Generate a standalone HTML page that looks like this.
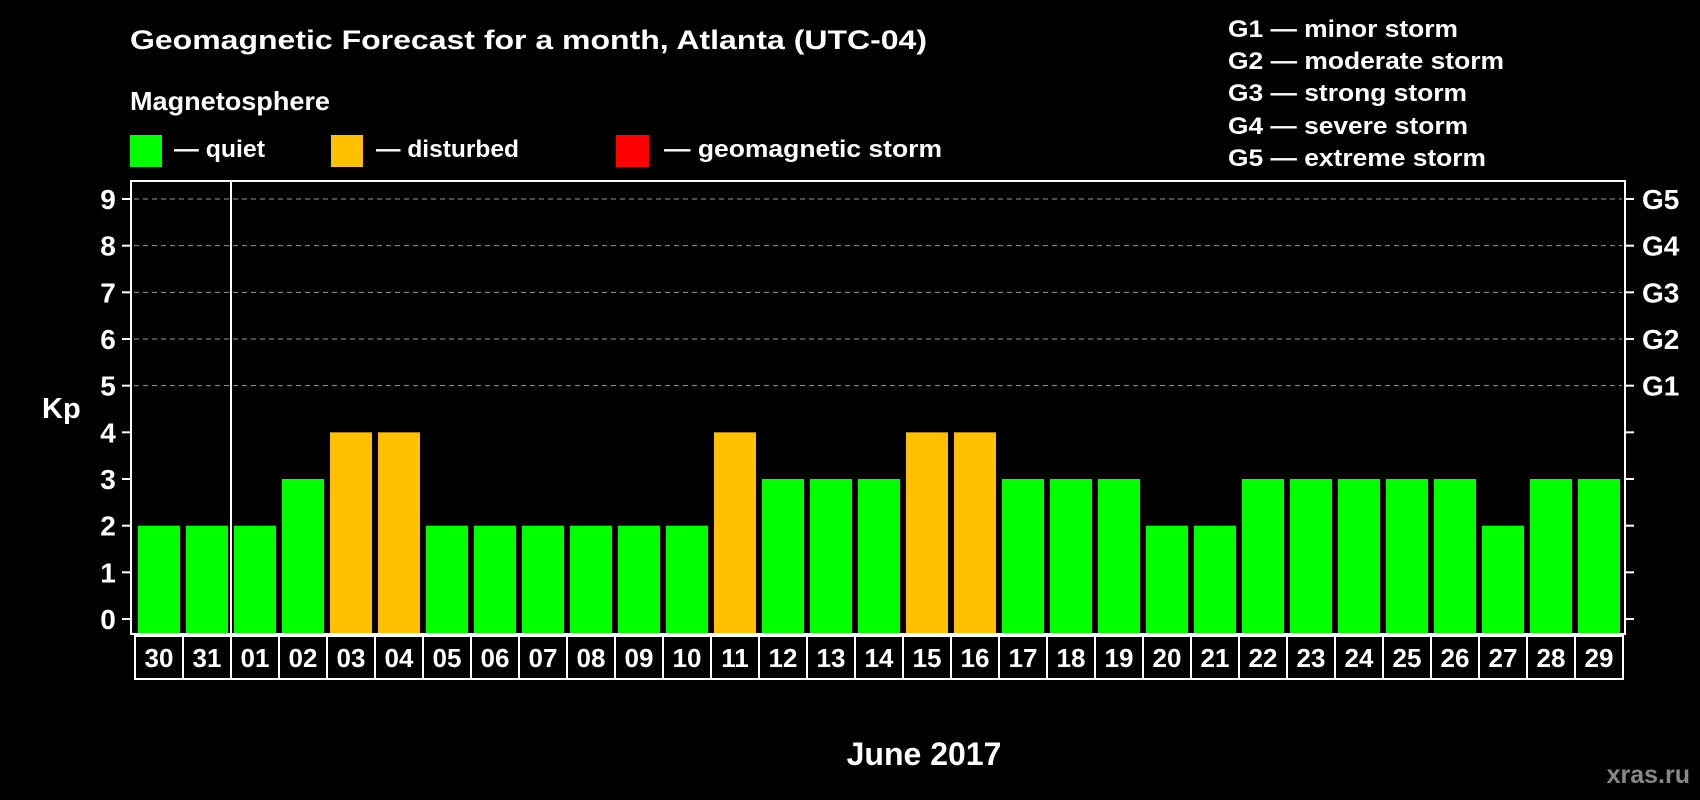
<!DOCTYPE html>
<html><head><meta charset="utf-8"><style>
html,body{margin:0;padding:0;background:#000;}
svg{display:block;font-family:"Liberation Sans",Arial,sans-serif;font-weight:bold;}
</style></head><body>
<svg id="chart" width="1700" height="800" viewBox="0 0 1700 800">
<rect x="0" y="0" width="1700" height="800" fill="#000"/>
<text x="130" y="49" fill="#fff" font-size="27" textLength="797" lengthAdjust="spacingAndGlyphs">Geomagnetic Forecast for a month, Atlanta (UTC-04)</text>
<text x="130" y="110" fill="#fff" font-size="26" textLength="200" lengthAdjust="spacingAndGlyphs">Magnetosphere</text>
<rect x="130" y="135" width="32" height="32" fill="#00ff00"/>
<text x="174" y="157" fill="#fff" font-size="24" textLength="91" lengthAdjust="spacingAndGlyphs">— quiet</text>
<rect x="331" y="135" width="32" height="32" fill="#ffc000"/>
<text x="376" y="157" fill="#fff" font-size="24" textLength="143" lengthAdjust="spacingAndGlyphs">— disturbed</text>
<rect x="616" y="135" width="33" height="32" fill="#ff0000"/>
<text x="664" y="157" fill="#fff" font-size="24" textLength="278" lengthAdjust="spacingAndGlyphs">— geomagnetic storm</text>
<g fill="#fff" font-size="24">
<text x="1228" y="37" textLength="230" lengthAdjust="spacingAndGlyphs">G1 — minor storm</text>
<text x="1228" y="69" textLength="276" lengthAdjust="spacingAndGlyphs">G2 — moderate storm</text>
<text x="1228" y="101" textLength="239" lengthAdjust="spacingAndGlyphs">G3 — strong storm</text>
<text x="1228" y="134" textLength="240" lengthAdjust="spacingAndGlyphs">G4 — severe storm</text>
<text x="1228" y="166" textLength="258" lengthAdjust="spacingAndGlyphs">G5 — extreme storm</text>
</g>
<text x="42" y="418" fill="#fff" font-size="29">Kp</text>
<text x="924" y="765" fill="#fff" font-size="32" text-anchor="middle">June 2017</text>
<text x="1690" y="783" fill="#888" font-size="25" text-anchor="end">xras.ru</text>
<g id="grid"></g>
<g id="bars"></g>
<rect x="131" y="181" width="1494" height="453" fill="none" stroke="#fff" stroke-width="2"/>
<line x1="231" y1="181" x2="231" y2="636" stroke="#fff" stroke-width="2"/>
<g id="xlabels"></g>
<g id="yaxis"></g>
</svg>
<script>
const days = ["30","31","01","02","03","04","05","06","07","08","09","10","11","12","13","14","15","16","17","18","19","20","21","22","23","24","25","26","27","28","29"];
const kpValues = [2,2,2,3,4,4,2,2,2,2,2,2,4,3,3,3,4,4,3,3,3,2,2,3,3,3,3,3,2,3,3];
const yTicks = [0,1,2,3,4,5,6,7,8,9];
const gLabels = ["","","","","","G1","G2","G3","G4","G5"];
const NS="http://www.w3.org/2000/svg";
const y0=619, unit=(619-199)/9, plotBottom=633;
function yScale(v){return y0-v*unit;}
function xCell(i){return 135+i*48;}
function mk(tag,attrs,parent){const e=document.createElementNS(NS,tag);for(const k in attrs)e.setAttribute(k,attrs[k]);parent.appendChild(e);return e;}
const grid=document.getElementById('grid'),bars=document.getElementById('bars'),xl=document.getElementById('xlabels'),ya=document.getElementById('yaxis');
yTicks.forEach((t,i)=>{
  const y=yScale(t);
  if(t>=5){const g=mk('line',{x1:134,x2:1622,y1:y,y2:y,stroke:'#999','stroke-width':1,'stroke-dasharray':'5,4'},grid);
    
    }
  const l=mk('line',{x1:122,x2:131,y1:y,y2:y,stroke:'#fff','stroke-width':2},ya);
  
  
  const r=mk('line',{x1:1625,x2:1634,y1:y,y2:y,stroke:'#fff','stroke-width':2},ya);
  
  
  const tx=mk('text',{x:108,y:y+10,fill:'#fff','font-size':28,'text-anchor':'middle'},ya);
  tx.textContent=t;
  
  
  if(gLabels[i]){const gt=mk('text',{x:1642,y:y+10,fill:'#fff','font-size':28},ya);
    gt.textContent=gLabels[i];
    
    }
});
days.forEach((d,i)=>{
  const v=kpValues[i];const x=xCell(i)+3;
  const b=mk('rect',{x:x,y:yScale(v),width:42,height:plotBottom-yScale(v),fill:v>=5?'#ff0000':(v>=4?'#ffc000':'#00ff00')},bars);
  
  
  const c=mk('rect',{x:xCell(i),y:636,width:48,height:43,fill:'none',stroke:'#fff','stroke-width':2},xl);
  
  
  const t=mk('text',{x:xCell(i)+24,y:667,fill:'#fff','font-size':26,'text-anchor':'middle'},xl);
  t.textContent=d;
  
  
});
</script>
</body></html>
